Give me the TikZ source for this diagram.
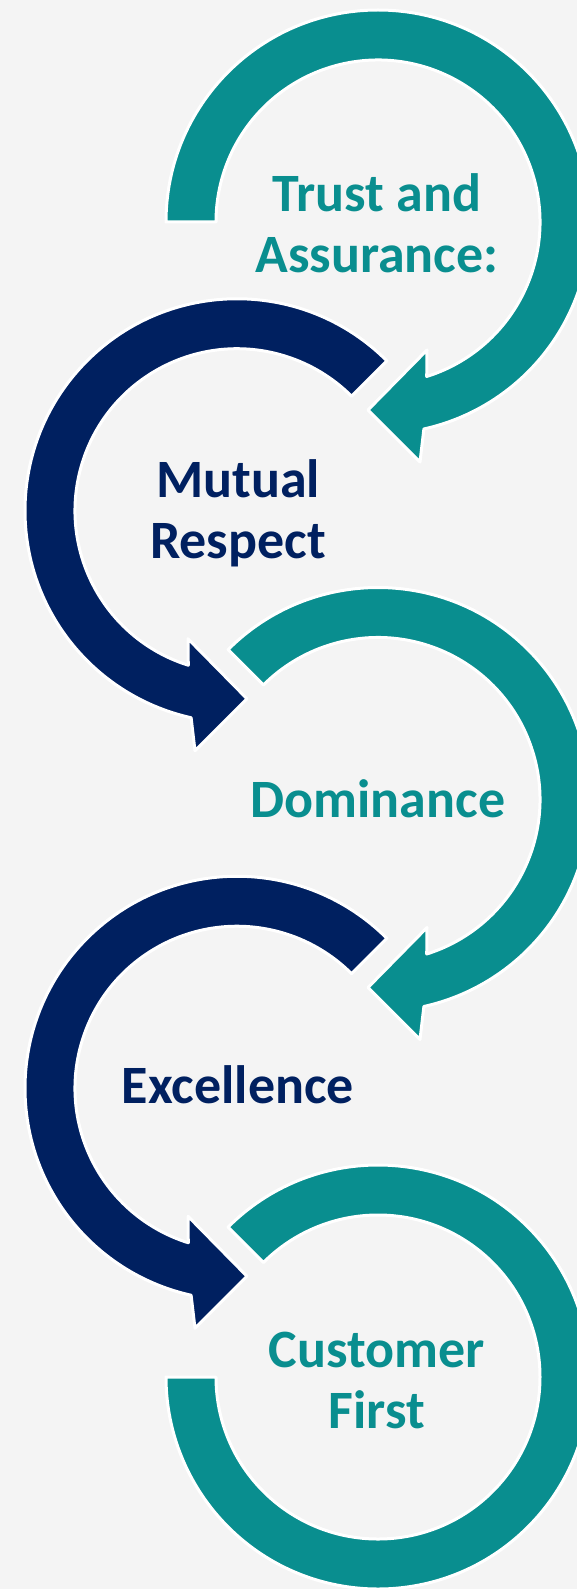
\documentclass[tikz,border=0pt]{standalone}
\usepackage{fontspec}
\setmainfont{Carlito}
\usepackage{tikz}

\definecolor{ringteal}{RGB}{9,142,143}
\definecolor{ringnavy}{RGB}{0,32,96}
\definecolor{backgray}{RGB}{244,244,244}

\begin{document}
\begin{tikzpicture}[x=0.5pt,y=0.5pt,
  ring/.style={draw=white,line width=1.5pt,line join=round},
  ringtext/.style={font=\bfseries\fontsize{27}{30.5}\selectfont,align=center,anchor=base}]
\useasboundingbox (0,0) rectangle (577,-1589);
\fill[backgray] (0,0) rectangle (577,-1589);
\clip (0,0) rectangle (577,-1589);
% Ring Centres
\coordinate (Ring1) at (378,-222);
\coordinate (Ring2) at (237,-510.75);
\coordinate (Ring3) at (378,-799.5);
\coordinate (Ring4) at (237,-1088.25);
\coordinate (Ring5) at (378,-1377);
% Rings
\begin{scope}[shift={(Ring1)}]
\path[fill=ringteal,ring] (180:212) arc[start angle=180,end angle=-77.5,radius=212]
  -- (42,-240) -- (-10,-188) -- (49,-128)
  -- (-72.5:162) arc[start angle=-72.5,end angle=180,radius=162] -- cycle;
\end{scope}
\begin{scope}[shift={(Ring2)},xscale=-1]
\path[fill=ringnavy,ring] (135:212) arc[start angle=135,end angle=-77.5,radius=212]
  -- (42,-240) -- (-10,-188) -- (49,-128)
  -- (-72.5:162) arc[start angle=-72.5,end angle=135,radius=162] -- cycle;
\end{scope}
\begin{scope}[shift={(Ring3)}]
\path[fill=ringteal,ring] (135:212) arc[start angle=135,end angle=-77.5,radius=212]
  -- (42,-240) -- (-10,-188) -- (49,-128)
  -- (-72.5:162) arc[start angle=-72.5,end angle=135,radius=162] -- cycle;
\end{scope}
\begin{scope}[shift={(Ring4)},xscale=-1]
\path[fill=ringnavy,ring] (135:212) arc[start angle=135,end angle=-77.5,radius=212]
  -- (42,-240) -- (-10,-188) -- (49,-128)
  -- (-72.5:162) arc[start angle=-72.5,end angle=135,radius=162] -- cycle;
\end{scope}
\begin{scope}[shift={(Ring5)}]
\path[fill=ringteal,ring] (135:212) arc[start angle=135,end angle=-180,radius=212]
  -- (-180:162) arc[start angle=-180,end angle=135,radius=162] -- cycle;
\end{scope}
% Ring Labels (base = last line)
\node[ringtext,ringteal] (Trust) at (377,-272) {Trust and\\Assurance:};
\node[ringtext,ringnavy] (Mutual) at (238,-558) {Mutual\\Respect};
\node[ringtext,ringteal] (Dominance) at (378,-817) {Dominance};
\node[ringtext,ringnavy] (Excellence) at (238,-1103) {Excellence};
\node[ringtext,ringteal] (Customer) at (377,-1428) {Customer\\First};
\end{tikzpicture}
\end{document}
